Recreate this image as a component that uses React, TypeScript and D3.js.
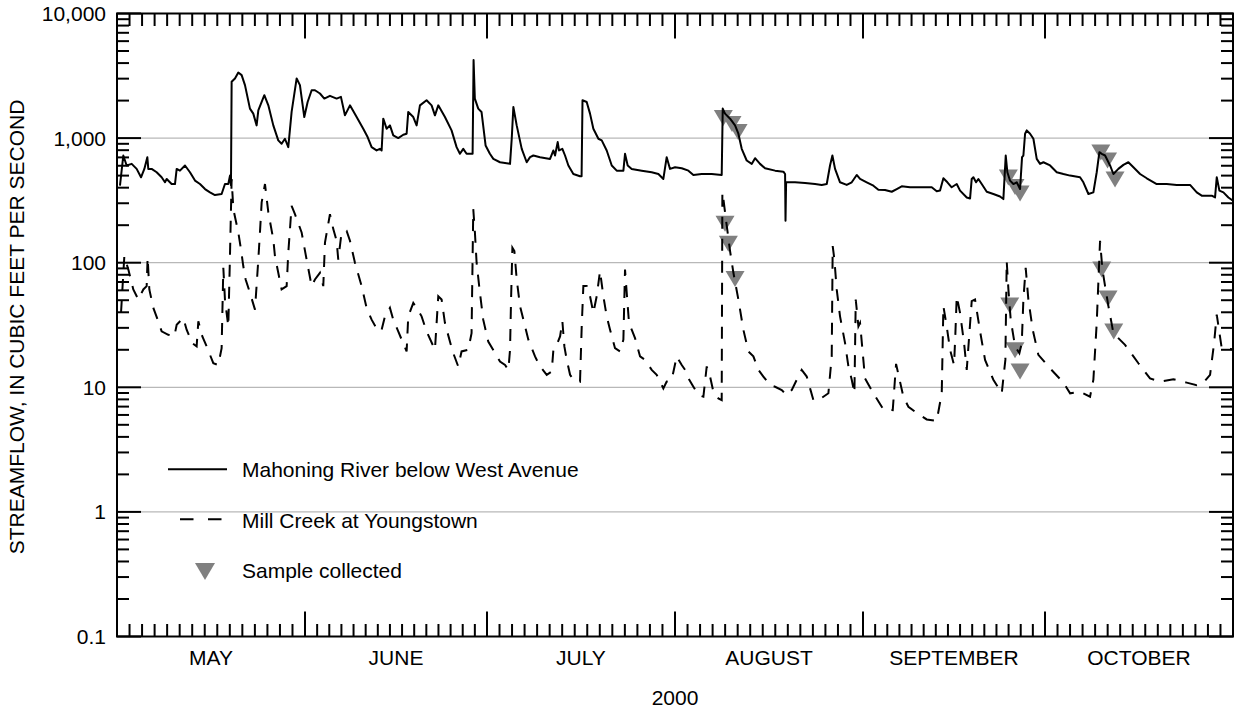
import React from "react";
import * as d3 from "d3";

// Days after 1 May 2000 (fractional) and streamflow in cubic feet per second
const mahoningDay = [
  0.49, 1.04, 1.59, 2.42, 3.24, 3.96, 4.51, 5.0, 5.16, 5.71, 6.54, 7.36, 7.91, 8.19, 9.01, 9.56, 9.84, 10.38, 11.21, 12.03,
  12.86, 13.68, 14.51, 15.33, 16.15, 17.25, 17.8, 18.35, 18.63, 18.79, 18.9, 19.45, 20.0, 20.55, 21.1, 21.92, 22.47, 23.02, 23.3, 24.29,
  24.95, 25.77, 26.59, 27.14, 27.69, 28.24, 28.79, 29.62, 30.16, 30.88, 31.43, 32.09, 32.64, 33.46, 34.18, 35.11, 36.21, 36.92, 37.58, 38.41,
  39.51, 40.6, 41.32, 41.98, 42.8, 43.35, 43.63, 43.9, 44.45, 45.0, 45.55, 46.37, 47.2, 47.75, 48.02, 48.85, 49.4, 49.95, 51.04, 51.87,
  52.42, 52.97, 54.07, 55.16, 55.99, 56.54, 57.09, 57.64, 58.63, 58.79, 59.0, 59.56, 60.1, 60.77, 61.48, 62.05, 63.15, 64.8, 65.08, 65.35,
  65.9, 66.73, 67.55, 68.1, 68.65, 69.75, 71.4, 71.95, 72.22, 72.66, 72.88, 73.43, 73.87, 74.42, 75.24, 76.34, 76.6, 76.75, 77.44, 77.99,
  78.54, 79.37, 79.92, 80.74, 81.57, 82.39, 83.49, 83.76, 84.2, 84.86, 86.51, 88.16, 89.26, 90.08, 90.63, 91.18, 92.01, 93.11, 94.21, 95.03,
  96.4, 98.05, 99.7, 99.87, 100.25, 101.08, 101.9, 102.45, 103.0, 103.82, 104.65, 105.2, 106.02, 106.85, 108.5, 109.87, 110.15, 110.22, 110.32, 111.79,
  113.44, 115.09, 116.19, 117.02, 117.56, 117.95, 118.39, 119.21, 120.31, 121.14, 121.96, 122.51, 123.61, 124.71, 125.53, 126.63, 127.73, 128.56, 129.38, 130.75,
  132.4, 134.33, 135.15, 135.7, 136.25, 136.91, 137.62, 138.45, 139.0, 140.1, 140.65, 140.92, 141.2, 141.64, 142.02, 142.57, 143.4, 144.49, 145.59, 146.14,
  146.53, 146.8, 147.24, 147.79, 148.34, 148.89, 149.22, 149.44, 149.72, 149.99, 150.54, 151.09, 151.64, 152.19, 152.74, 153.84, 154.94, 156.04, 157.14, 158.78,
  159.33, 160.16, 160.98, 161.53, 161.97, 162.36, 162.91, 163.73, 164.28, 165.1, 165.93, 166.75, 167.58, 168.68, 169.78, 171.42, 173.07, 174.72, 176.92, 178.02,
  178.84, 180.49, 181.04, 181.32, 181.76, 182.42, 183.24, 184.0,
];
const mahoningCfs = [
  415, 725, 603, 621, 566, 485, 566, 703, 566, 566, 532, 485, 442, 470, 428, 428, 566, 548, 603, 532,
  456, 428, 390, 367, 349, 356, 428, 428, 500, 420, 2830, 3010, 3360, 3200, 2660, 1725, 1572, 1265, 1672, 2210,
  1832, 1265, 958, 900, 988, 846, 1622, 3010, 2660, 1476, 1950, 2420, 2420, 2280, 2075, 2182, 2075, 2142, 1523, 1832,
  1476, 1190, 1019, 846, 796, 820, 796, 1432, 1190, 1265, 1051, 1000, 1064, 1084, 1622, 1476, 1265, 1832, 2014, 1832,
  1523, 1832, 1476, 1153, 846, 748, 820, 748, 748, 4226, 2075, 1725, 1622, 873, 748, 681, 640, 621, 988, 1778,
  1265, 820, 640, 703, 725, 703, 681, 796, 725, 929, 796, 820, 725, 603, 515, 494, 494, 2014, 1950, 1572,
  1190, 988, 958, 796, 603, 548, 548, 748, 603, 566, 548, 532, 515, 470, 703, 566, 584, 573, 548, 506,
  515, 515, 506, 1725, 1572, 1432, 1265, 1084, 820, 661, 621, 690, 621, 573, 548, 538, 515, 217, 442, 442,
  437, 428, 421, 428, 603, 725, 566, 442, 421, 442, 506, 470, 442, 415, 385, 383, 371, 390, 410, 403,
  403, 403, 374, 379, 476, 442, 403, 428, 379, 334, 328, 470, 485, 442, 470, 428, 371, 356, 340, 324,
  725, 532, 456, 428, 442, 390, 703, 725, 1084, 1153, 1084, 988, 681, 621, 640, 603, 532, 515, 500, 485,
  442, 356, 367, 532, 771, 748, 725, 603, 515, 566, 610, 640, 584, 515, 476, 428, 428, 421, 421, 367,
  345, 345, 334, 485, 379, 367, 334, 314,
];

const millDay = [
  0.66, 1.21, 1.87, 2.69, 3.52, 4.34, 4.89, 5.05, 5.33, 5.99, 6.7, 7.36, 8.46, 9.45, 9.84, 10.93, 11.48, 12.42, 13.13, 13.41,
  14.07, 14.78, 15.88, 16.7, 17.25, 17.53, 17.8, 18.35, 18.6, 18.9, 19.18, 20.0, 20.44, 20.82, 21.21, 21.92, 22.75, 23.3, 23.57, 23.85,
  24.4, 24.95, 25.77, 26.04, 26.59, 27.14, 27.97, 28.24, 28.79, 29.34, 30.44, 31.26, 32.09, 32.64, 33.46, 34.01, 34.29, 35.11, 35.66, 36.21,
  36.48, 37.03, 37.86, 38.41, 39.23, 40.33, 41.15, 41.98, 43.08, 43.63, 44.18, 45.0, 45.55, 46.37, 47.75, 48.02, 48.85, 49.4, 50.22, 51.04,
  52.42, 52.97, 53.52, 54.07, 54.89, 55.44, 56.26, 56.81, 57.91, 58.46, 58.74, 59.01, 59.29, 59.84, 60.38, 61.21, 63.15, 63.98, 64.53, 64.8,
  64.97, 65.19, 65.52, 65.9, 66.45, 67.0, 67.82, 68.92, 69.75, 70.85, 71.67, 71.95, 72.5, 73.05, 73.43, 73.76, 74.15, 74.7, 75.24, 76.34,
  76.62, 76.89, 77.44, 77.99, 78.54, 79.09, 79.64, 80.19, 80.74, 81.29, 82.11, 82.94, 83.49, 83.76, 84.04, 84.42, 84.86, 85.41, 86.24, 87.06,
  88.16, 88.98, 90.08, 90.63, 91.46, 92.28, 93.11, 93.66, 94.21, 95.03, 95.86, 96.68, 97.23, 97.78, 98.33, 99.15, 99.7, 99.81, 99.98, 100.53,
  101.08, 101.63, 102.45, 103.27, 104.1, 104.92, 105.75, 106.57, 107.67, 108.5, 109.6, 110.42, 111.24, 112.07, 112.89, 113.72, 114.27, 114.82, 115.64, 116.46,
  117.29, 117.84, 118.0, 118.28, 118.66, 119.21, 120.04, 120.59, 121.14, 121.58, 121.8, 122.24, 122.51, 123.33, 124.71, 126.36, 127.9, 128.45, 129.65, 130.48,
  131.58, 133.5, 135.15, 135.98, 136.25, 136.8, 137.35, 138.01, 138.23, 138.45, 139.0, 139.66, 140.1, 140.92, 141.47, 142.3, 143.12, 144.49, 145.87, 146.47,
  146.69, 146.97, 147.35, 148.07, 148.78, 149.17, 149.44, 149.82, 150.26, 150.98, 151.91, 153.84, 156.04, 157.14, 158.78, 160.43, 160.98, 161.53, 162.08, 162.47,
  162.91, 163.46, 164.28, 166.2, 168.4, 170.32, 171.97, 174.17, 176.37, 178.02, 179.12, 180.22, 180.88, 181.32, 182.14, 184.0,
];
const millCfs = [
  39.5, 113, 88, 61, 50.6, 61, 64.9, 110, 61, 43.4, 34.9, 28.1, 26.4, 25.6, 31.8, 36, 29, 22.6, 21.3, 33.9,
  25.6, 21.3, 15.6, 15.1, 20.6, 91.2, 50.6, 30.8, 100, 470, 269, 175, 128, 94, 73.4, 57.3, 42, 106, 175, 305,
  428, 253, 154, 113, 83, 61, 64.9, 120, 286, 245, 175, 106, 64.9, 73.4, 83, 64.9, 145, 245, 186, 150,
  106, 175, 180, 150, 100, 64.9, 43.4, 34.9, 28.1, 29, 37.1, 43.4, 34.9, 28.1, 19.4, 37.1, 47.5, 43.4, 37.1, 28.1,
  20, 53.8, 50.6, 32.8, 23.3, 18.8, 14.7, 19.4, 20, 27.2, 270, 175, 100, 57.3, 34.9, 23.3, 16.1, 15.1, 13.8, 20,
  50.6, 132, 124, 73.4, 44.8, 34.9, 24.1, 17.7, 14.7, 12.6, 13.4, 20, 21.9, 25.6, 33.9, 21.3, 16.6, 12.6, 11.5, 11.1,
  30.8, 64.9, 64.9, 53.8, 39.5, 53.8, 85.7, 53.8, 37.1, 29, 20.6, 19.4, 24.1, 88, 57.3, 32.8, 29, 24.8, 17.7, 16.6,
  13.8, 12.6, 9.8, 11.1, 11.5, 17.7, 15.1, 13.8, 11.8, 10.1, 8.67, 8.4, 14.7, 12.2, 9.2, 8.15, 7.9, 367, 324, 198,
  124, 83, 50.6, 29, 19.4, 17.7, 13.8, 12.2, 10.4, 10.1, 9.5, 8.67, 9.5, 11.5, 13.8, 12.2, 9.8, 7.9, 7.9, 8.4,
  8.95, 17.7, 136, 106, 61, 37.1, 22.6, 14.7, 11.5, 8.95, 50.6, 30.8, 32.8, 11.8, 8.95, 6.65, 6.56, 15.4, 8.4, 6.98,
  6.37, 5.52, 5.38, 8.95, 44.8, 30.8, 20, 15.1, 27.2, 53.8, 39.5, 22.6, 13.8, 49.1, 50.6, 28.1, 16.6, 11.5, 8.95, 16.6,
  103, 61, 34.9, 21.3, 18.8, 22.6, 50.6, 91, 50.6, 29, 18.2, 14.2, 10.9, 8.95, 9.2, 8.4, 11.5, 32.8, 150, 88,
  64.9, 44.8, 27.2, 21.9, 15.6, 11.8, 11.1, 11.6, 10.9, 10.4, 10.9, 12.6, 22.6, 38.3, 20.6, 20.2,
];

const sampleMahoningDay = [99.97, 101.4, 102.4, 146.96, 148.06, 148.89, 162.21, 163.32, 164.55];
const sampleMahoningCfs = [1452, 1298, 1120, 483, 405, 360, 767, 662, 466];
const sampleMillDay = [100.25, 100.8, 101.9, 147.19, 148.06, 148.89, 162.36, 163.4, 164.34];
const sampleMillCfs = [205, 142, 74, 45.4, 19.8, 13.4, 88, 51.7, 28.1];

const monthLabels = ["MAY", "JUNE", "JULY", "AUGUST", "SEPTEMBER", "OCTOBER"];
const yTickValues = [0.1, 1, 10, 100, 1000, 10000];
const yTickLabels = ["0.1", "1", "10", "100", "1,000", "10,000"];
const yearLabel = "2000";
const yTitle = "STREAMFLOW, IN CUBIC FEET PER SECOND";
const legendLabels = ["Mahoning River below West Avenue", "Mill Creek at Youngstown", "Sample collected"];

const W = 1234;
const H = 719;
const X0 = 117;
const X1 = 1233;
const Y0 = 13.5;
const Y1 = 636.5;
const FONT = "'Liberation Sans', Arial, Helvetica, sans-serif";
const DAY = 86400000;
const START = Date.UTC(2000, 4, 1);

const x = d3.scaleUtc().domain([new Date(START), new Date(Date.UTC(2000, 10, 1))]).range([X0, X1]);
const y = d3.scaleLog().domain([0.1, 10000]).range([Y1, Y0]);
const dayToDate = (d: number) => new Date(START + d * DAY);

const line = d3
  .line<[number, number]>()
  .x((p) => x(dayToDate(p[0])))
  .y((p) => y(p[1]));

const zip = (a: number[], b: number[]) => a.map((v, i) => [v, b[i]] as [number, number]);

function tri(cx: number, cy: number, w = 19, h = 16) {
  return `M${cx - w / 2},${cy - h / 2}L${cx + w / 2},${cy - h / 2}L${cx},${cy + h / 2}Z`;
}

export default function App() {
  const months = monthLabels.map((_, i) => ({
    start: Date.UTC(2000, 4 + i, 1),
    end: Date.UTC(2000, 5 + i, 1),
  }));
  const minorX: number[] = [];
  months.forEach((m) => {
    for (let k = 1; k < 15; k++) minorX.push(x(new Date(m.start + (k * (m.end - m.start)) / 15)));
  });
  const majorX = months.slice(1).map((m) => x(new Date(m.start)));

  const minorY: number[] = [];
  for (let e = -1; e <= 3; e++) for (let k = 2; k <= 9; k++) minorY.push(y(k * Math.pow(10, e)));
  const majorY = yTickValues.map((v) => y(v));

  const stroke = "#000";
  return (
    <svg
      width={W}
      height={H}
      style={{ position: "absolute", left: 0, top: 0, background: "#fff" }}
      fontFamily={FONT}
    >
      {/* gridlines */}
      {[1, 10, 100, 1000].map((v) => (
        <line key={v} x1={X0} x2={X1} y1={y(v)} y2={y(v)} stroke="#b8b8b8" strokeWidth={1.3} />
      ))}

      {/* sample markers */}
      {zip(sampleMahoningDay, sampleMahoningCfs).map((p, i) => (
        <path key={"sm" + i} d={tri(x(dayToDate(p[0])), y(p[1]))} fill="#808080" />
      ))}
      {zip(sampleMillDay, sampleMillCfs).map((p, i) => (
        <path key={"sc" + i} d={tri(x(dayToDate(p[0])), y(p[1]))} fill="#808080" />
      ))}

      {/* series */}
      <path d={line(zip(millDay, millCfs)) || ""} fill="none" stroke={stroke} strokeWidth={2} strokeDasharray="12 10" />
      <path d={line(zip(mahoningDay, mahoningCfs)) || ""} fill="none" stroke={stroke} strokeWidth={2} strokeLinejoin="round" />

      {/* frame */}
      <rect x={X0} y={Y0} width={X1 - X0} height={Y1 - Y0} fill="none" stroke={stroke} strokeWidth={2} />

      {/* x ticks */}
      {minorX.map((px, i) => (
        <g key={"mx" + i}>
          <line x1={px} x2={px} y1={Y1} y2={Y1 - 12.5} stroke={stroke} strokeWidth={2} />
          <line x1={px} x2={px} y1={Y0} y2={Y0 + 12.5} stroke={stroke} strokeWidth={2} />
        </g>
      ))}
      {majorX.map((px, i) => (
        <g key={"Mx" + i}>
          <line x1={px} x2={px} y1={Y1} y2={Y1 - 25} stroke={stroke} strokeWidth={2} />
          <line x1={px} x2={px} y1={Y0} y2={Y0 + 25} stroke={stroke} strokeWidth={2} />
        </g>
      ))}

      {/* y ticks */}
      {minorY.map((py, i) => (
        <g key={"my" + i}>
          <line x1={X0} x2={X0 + 12} y1={py} y2={py} stroke={stroke} strokeWidth={2} />
          <line x1={X1} x2={X1 - 12} y1={py} y2={py} stroke={stroke} strokeWidth={2} />
        </g>
      ))}
      {majorY.map((py, i) => (
        <g key={"My" + i}>
          <line x1={X0} x2={X0 + 24} y1={py} y2={py} stroke={stroke} strokeWidth={2} />
          <line x1={X1} x2={X1 - 24} y1={py} y2={py} stroke={stroke} strokeWidth={2} />
        </g>
      ))}

      {/* y labels */}
      {yTickValues.map((v, i) => (
        <text key={"yl" + i} x={106} y={y(v) + 7.5} textAnchor="end" fontSize={21} fill="#000">
          {yTickLabels[i]}
        </text>
      ))}
      <text transform={`translate(24,${(Y0 + Y1) / 2 + 2}) rotate(-90)`} textAnchor="middle" fontSize={21} fill="#000">
        {yTitle}
      </text>

      {/* month labels */}
      {months.map((m, i) => (
        <text key={"ml" + i} x={x(new Date((m.start + m.end) / 2))} y={664.5} textAnchor="middle" fontSize={21} fill="#000">
          {monthLabels[i]}
        </text>
      ))}
      <text x={(X0 + X1) / 2} y={705} textAnchor="middle" fontSize={21} fill="#000">
        {yearLabel}
      </text>

      {/* legend */}
      <line x1={168} x2={227} y1={469.3} y2={469.3} stroke={stroke} strokeWidth={2} />
      <text x={242} y={476.7} fontSize={21} fill="#000">{legendLabels[0]}</text>
      <line x1={180} x2={223} y1={519.3} y2={519.3} stroke={stroke} strokeWidth={2} strokeDasharray="13.5 14.5" />
      <text x={242} y={528.3} fontSize={21} fill="#000">{legendLabels[1]}</text>
      <path d={tri(205, 571.5, 20, 17)} fill="#808080" />
      <text x={242} y={578.3} fontSize={21} fill="#000">{legendLabels[2]}</text>
    </svg>
  );
}
